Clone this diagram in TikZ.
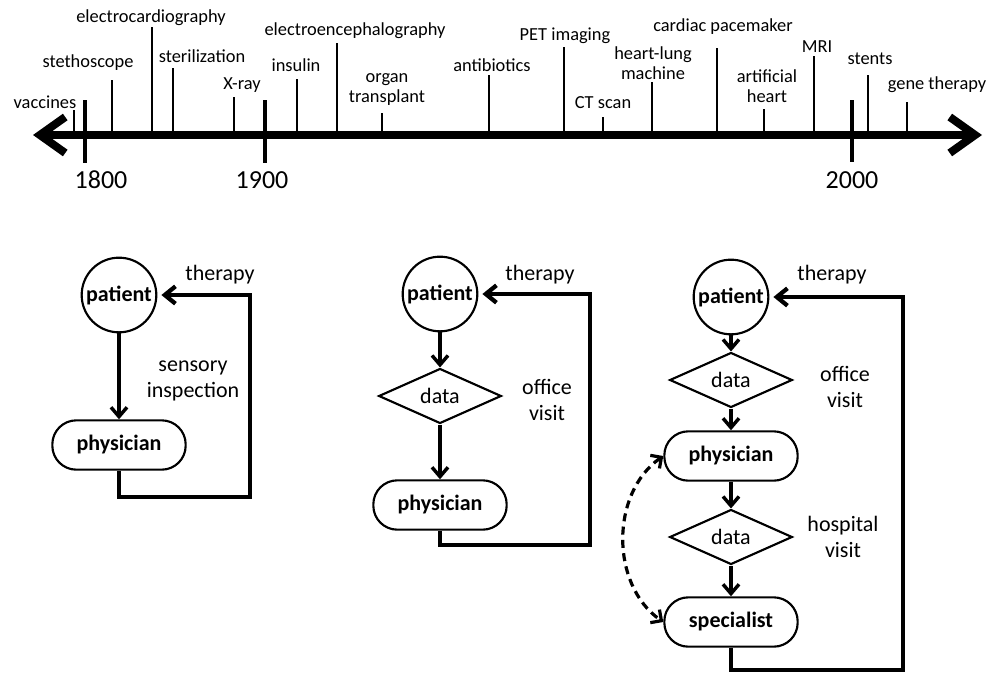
\documentclass[tikz,border=0pt]{standalone}
\usepackage{fontspec}
\setmainfont{Carlito}
\usetikzlibrary{arrows.meta,shapes.geometric,positioning}

\tikzset{
  event/.style={font=\fontsize{13.8}{15}\selectfont, align=center, inner sep=0pt},
  year/.style={font=\fontsize{19.5}{22}\selectfont, inner sep=0pt},
  tickline/.style={line width=1.6pt},
  bigtick/.style={line width=3.5pt},
  patientnode/.style={circle, draw, line width=1.6pt, minimum size=56pt, inner sep=0pt,
    font=\fontsize{16.5}{18}\selectfont\bfseries},
  docnode/.style={rectangle, rounded corners=18pt, draw, line width=1.6pt,
    minimum width=100pt, minimum height=37pt, font=\fontsize{16.5}{18}\selectfont\bfseries},
  datanode/.style={diamond, draw, line width=1.6pt, minimum width=92pt, minimum height=35pt,
    inner sep=0pt, font=\fontsize{16.5}{18}\selectfont},
  lbl/.style={font=\fontsize{16.5}{19}\selectfont, align=center, inner sep=0pt},
  flow/.style={line width=2.6pt, -{Straight Barb[length=7pt,width=12pt]}},
  feedback/.style={line width=3.2pt, -{Straight Barb[length=8pt,width=13pt]}, shorten >=3pt},
}

\begin{document}
\begin{tikzpicture}[x=0.75pt, y=-0.75pt]
    \useasboundingbox (0,0) rectangle (1002,678);
    % time line
    \coordinate (tleft) at (33,135);
    \coordinate (tright) at (982,135);
    \draw[line width=6pt, {Straight Barb[length=19pt,width=27pt]}-{Straight Barb[length=19pt,width=27pt]}] (tleft) -- (tright);
    \draw[bigtick] (85,100) -- (85,163);
    \draw[bigtick] (265,100) -- (265,163);
    \draw[bigtick] (852,100) -- (852,162);
    \node[year] (y1800) at (101,180) {1800};
    \node[year] (y1900) at (262,180) {1900};
    \node[year] (y2000) at (852,180) {2000};
    % events
    \draw[tickline] (74,135) -- (74,110);
    \node[event] (vaccines) at (45,102) {vaccines};
    \draw[tickline] (112,135) -- (112,80);
    \node[event] (stethoscope) at (88,63) {stethoscope};
    \draw[tickline] (152,135) -- (152,27);
    \node[event] (ecg) at (151,18) {electrocardiography};
    \draw[tickline] (173,135) -- (173,68);
    \node[event] (sterilization) at (202,56) {sterilization};
    \draw[tickline] (234,135) -- (234,97);
    \node[event] (xray) at (242,85) {X-ray};
    \draw[tickline] (297,135) -- (297,79);
    \node[event] (insulin) at (296,65) {insulin};
    \draw[tickline] (337,135) -- (337,43);
    \node[event] (eeg) at (355,31) {electroencephalography};
    \draw[tickline] (382,135) -- (382,113);
    \node[event] (transplant) at (387,90) {organ\\transplant};
    \draw[tickline] (489,135) -- (489,75);
    \node[event] (antibiotics) at (492,65) {antibiotics};
    \draw[tickline] (564,135) -- (564,47);
    \node[event] (pet) at (565,36) {PET imaging};
    \draw[tickline] (603,135) -- (603,117);
    \node[event] (ct) at (603,103) {CT scan};
    \draw[tickline] (652,135) -- (652,82);
    \node[event] (heartlung) at (653,63) {heart-lung\\machine};
    \draw[tickline] (717,135) -- (717,48);
    \node[event] (pacemaker) at (723,27) {cardiac pacemaker};
    \draw[tickline] (764,135) -- (764,109);
    \node[event] (artheart) at (767,86) {artificial\\heart};
    \draw[tickline] (814,135) -- (814,56);
    \node[event] (mri) at (817,47) {MRI};
    \draw[tickline] (868,135) -- (868,75);
    \node[event] (stents) at (870,59) {stents};
    \draw[tickline] (907,135) -- (907,102);
    \node[event] (gene) at (937,85) {gene therapy};
    % first loop
    \node[patientnode] (pat1) at (119,295) {patient};
    \node[docnode] (doc1) at (119,445) {physician};
    \coordinate (corner1) at (250,497);
    \draw[flow] (pat1) -- (doc1);
    \draw[feedback] (doc1.south) |- (corner1) |- (pat1.east);
    \node[lbl] (ther1) at (220,275) {therapy};
    \node[lbl] (sens1) at (193,381) {sensory\\inspection};
    % second loop
    \node[patientnode] (pat2) at (440,294) {patient};
    \node[datanode] (dat2) at (440,396) {data};
    \node[docnode] (doc2) at (440,505) {physician};
    \coordinate (corner2) at (590,545);
    \draw[flow] (pat2) -- (dat2);
    \draw[flow] (dat2) -- (doc2);
    \draw[feedback] (doc2.south) |- (corner2) |- (pat2.east);
    \node[lbl] (ther2) at (540,275) {therapy};
    \node[lbl] (off2) at (547,400) {office\\visit};
    % third loop
    \node[patientnode] (pat3) at (731,297) {patient};
    \node[datanode] (dat3a) at (731,380) {data};
    \node[docnode] (doc3) at (731,456) {physician};
    \node[datanode] (dat3b) at (731,537) {data};
    \node[docnode] (spec3) at (731,622) {specialist};
    \coordinate (corner3) at (903,670);
    \draw[flow] (pat3) -- (dat3a);
    \draw[flow] (dat3a) -- (doc3);
    \draw[flow] (doc3) -- (dat3b);
    \draw[flow] (dat3b) -- (spec3);
    \draw[feedback] (spec3.south) |- (corner3) |- (pat3.east);
    \draw[line width=2.4pt, dash pattern=on 6pt off 4pt, {Straight Barb[length=6pt,width=12pt]}-{Straight Barb[length=6pt,width=12pt]}]
      (doc3.west) to[bend right=55] (spec3.west);
    \node[lbl] (ther3) at (832,275) {therapy};
    \node[lbl] (off3) at (845,387) {office\\visit};
    \node[lbl] (hosp3) at (843,537) {hospital\\visit};
\end{tikzpicture}
\end{document}
